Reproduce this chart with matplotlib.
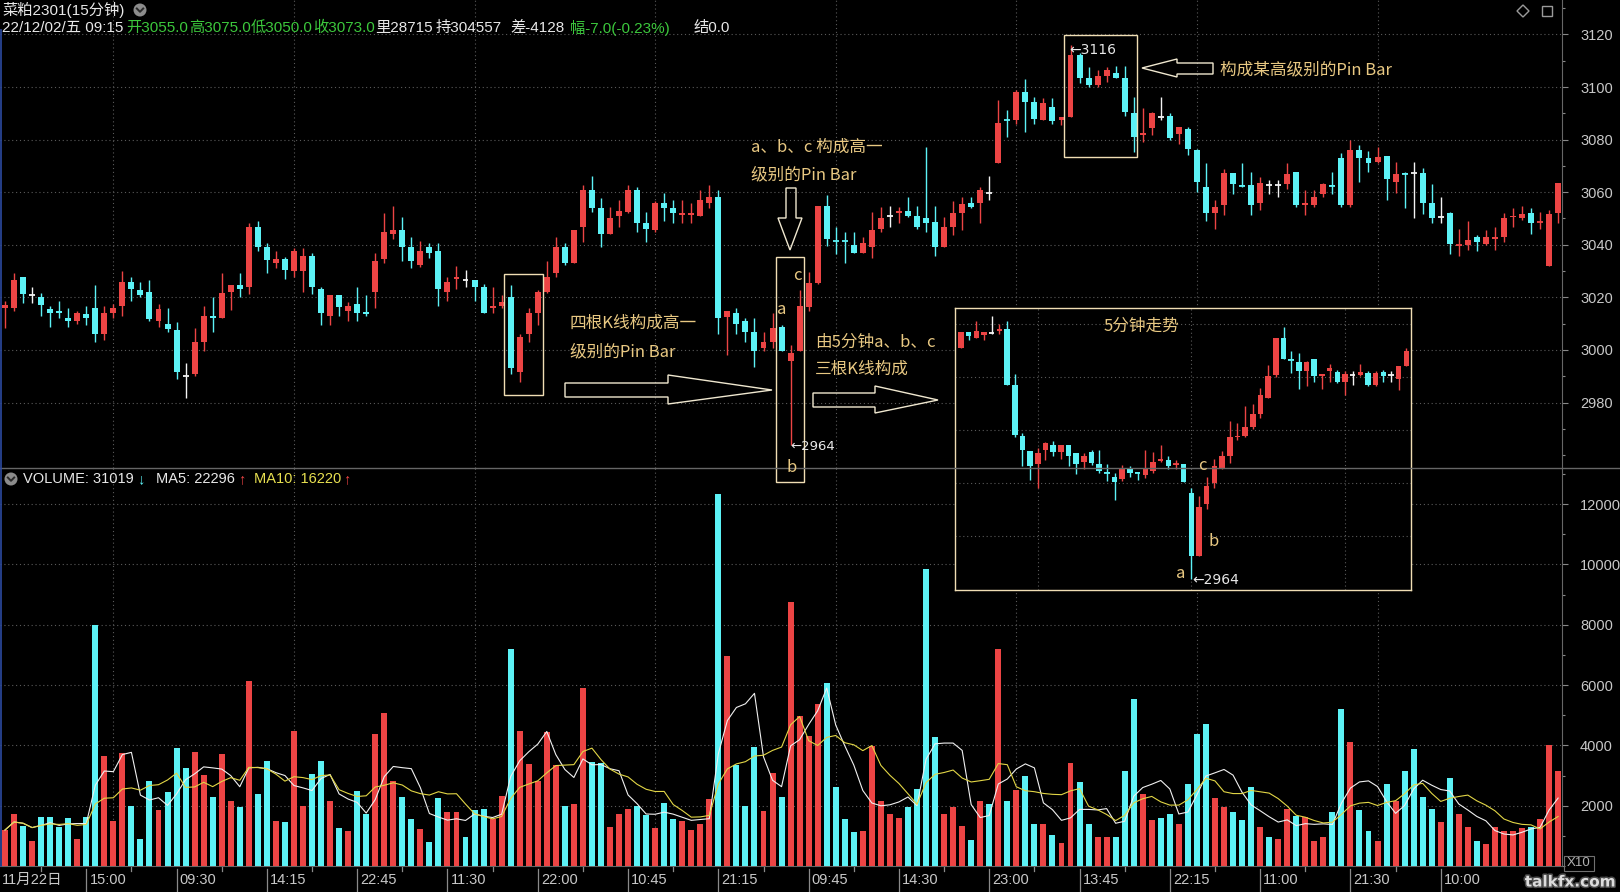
import numpy as np
import pandas as pd
import matplotlib
matplotlib.use('Agg')
import matplotlib.pyplot as plt
import matplotlib.transforms as mtransforms
import matplotlib.patheffects as pe
from matplotlib.patches import Rectangle, Polygon, Circle
from matplotlib.ticker import MultipleLocator

plt.rcParams['font.family'] = ['Noto Sans CJK SC', 'DejaVu Sans']

# ---- 15分钟K线 (菜粕2301) ----
o = [3016, 3015.8, 3027.6, 3021, 3020, 3015.7, 3014.8, 3012, 3011, 3013.8,
     3015.8, 3006, 3013.9, 3016.7, 3025.7, 3022.8, 3021.9, 3011.2, 3009.8, 3007.6,
     2990.2, 2990.8, 3003.2, 3013, 3012, 3022.2, 3024.7, 3024.1, 3046.6, 3039,
     3033, 3034.6, 3030.2, 3030.2, 3035.7, 3023, 3013, 3020.9, 3015, 3017.5,
     3014.6, 3022.2, 3034.7, 3044.1, 3045.6, 3039, 3032.3, 3039, 3037.8, 3022.2,
     3026.9, 3026.6, 3026.6, 3023.8, 3015.8, 3016.7, 3020, 2991.8, 3006.1, 3013.9,
     3022.2, 3029.2, 3039, 3033, 3046.6, 3060.8, 3053.9, 3044.1, 3051, 3052.6,
     3061, 3048.2, 3045.6, 3055.8, 3053.9, 3051.5, 3051.5, 3051, 3056, 3058.3,
     3012.4, 3013.9, 3011.2, 3006.7, 3000.6, 3002.9, 3008.9, 2995.9, 2999.7, 3016.5,
     3025.3, 3054.8, 3041.6, 3041.6, 3039.9, 3037, 3039.3, 3045.9, 3051, 3052,
     3053, 3051, 3050.1, 3048.8, 3039.3, 3046.6, 3052, 3056, 3055.8, 3059.8,
     3071, 3087.5, 3087.5, 3098.2, 3094.4, 3087.5, 3092.5, 3087.5, 3088.5, 3112,
     3103.3, 3100.8, 3104.2, 3105.2, 3103.3, 3090, 3081.7, 3084.3, 3088.7, 3089,
     3082.1, 3083.9, 3076, 3061.9, 3052.2, 3055.1, 3067.2, 3062.6, 3062.7, 3055.8,
     3062.7, 3062.7, 3063.1, 3067.8, 3055.1, 3055.1, 3059.3, 3062.7, 3072.9, 3055.1,
     3076, 3072.9, 3071.5, 3073.8, 3064, 3067.3, 3067.4, 3067.2, 3055.8, 3050.4,
     3052, 3039.6, 3039.9, 3042.8, 3040.3, 3042.3, 3042.8, 3050.4, 3050.1, 3052,
     3048.6, 3031.9, 3052.2]
h = [3018.5, 3029.2, 3027.6, 3023.8, 3021.8, 3016.7, 3018.8, 3015.8, 3014.8, 3016.7,
     3024.7, 3016.7, 3017.5, 3030.2, 3027.6, 3025.7, 3026.6, 3017.5, 3015.8, 3010.8,
     2994.9, 3008.5, 3016.7, 3020, 3029.2, 3024.7, 3029.2, 3048.1, 3049.2, 3040.8,
     3037.8, 3035.5, 3038.7, 3038.7, 3036.8, 3023.8, 3020.9, 3020.9, 3018.4, 3024.1,
     3020.9, 3036.8, 3052, 3054.8, 3050.7, 3042.8, 3041.6, 3040.8, 3040.8, 3027.6,
     3031.9, 3030.4, 3026.6, 3025, 3023.8, 3020.9, 3024.7, 3006.1, 3015.8, 3022.8,
     3034, 3042.8, 3040.8, 3045.6, 3062.7, 3066.2, 3057.7, 3054.5, 3057, 3062.7,
     3061.8, 3052.6, 3056.8, 3059.8, 3057, 3057, 3055.8, 3060.8, 3062.7, 3060.8,
     3014.8, 3015.8, 3012, 3012, 3007, 3013.9, 3009.5, 3001.9, 3022.8, 3029.8,
     3054.8, 3058.9, 3046.6, 3045, 3045, 3042.8, 3052.6, 3054.5, 3054.8, 3054.5,
     3058, 3054.8, 3077.1, 3054.8, 3050.7, 3056.8, 3058, 3058, 3062, 3066.2,
     3095, 3091.3, 3098.9, 3102.9, 3096.3, 3095.7, 3095.7, 3088.7, 3116, 3113,
     3107.7, 3106.5, 3107.5, 3108, 3108, 3096.3, 3091.9, 3090.6, 3096.3, 3090,
     3084.9, 3084.7, 3076.3, 3071, 3057, 3068.7, 3067.2, 3071, 3067.8, 3065.9,
     3064.6, 3064.6, 3071, 3067.8, 3060.8, 3060.8, 3063.6, 3067.8, 3074.8, 3079.8,
     3077.9, 3075.8, 3077.1, 3073.8, 3071.6, 3067.8, 3071.6, 3069.1, 3063.1, 3058,
     3052.6, 3045.9, 3049.2, 3043.7, 3045.6, 3046.6, 3052, 3053.9, 3054.8, 3053.9,
     3052.6, 3053.2, 3063.6]
l = [3008.5, 3015, 3017.7, 3017.7, 3013, 3008.9, 3012, 3008.9, 3009.9, 3009.5,
     3003, 3003.8, 3012, 3013, 3018.8, 3020, 3011.2, 3008.9, 3007, 2988.9,
     2981.6, 2990, 2999.7, 3007, 3012, 3015.2, 3020.3, 3021.3, 3037.8, 3029.2,
     3031, 3026.9, 3027.6, 3022.2, 3021.3, 3009.5, 3009.5, 3013, 3011.2, 3011.2,
     3013, 3015.8, 3033, 3042.1, 3034, 3031, 3031.7, 3034.9, 3016.7, 3018.8,
     3023, 3023.8, 3018.8, 3013.9, 3013.9, 3015.8, 2990.9, 2987.9, 3003.2, 3009.5,
     3021.5, 3027.6, 3032.3, 3033, 3041.2, 3052.6, 3039.3, 3044.1, 3046.9, 3052.2,
     3045, 3041.2, 3045, 3049.2, 3048.2, 3048.2, 3048.2, 3051, 3053.9, 3006.1,
     2998, 3006.1, 3003.2, 2993.4, 2999.7, 3000.6, 2999.7, 2964, 2999.7, 3015,
     3025, 3039.5, 3036.5, 3033, 3037, 3037, 3034.9, 3045, 3046.9, 3048.2,
     3050.4, 3045.9, 3045, 3035.7, 3039.3, 3043.7, 3045.6, 3053.9, 3048.2, 3057,
     3071, 3080.9, 3086, 3083, 3086, 3087.5, 3086, 3085.5, 3088.5, 3101.5,
     3099.9, 3099.9, 3102, 3103.3, 3089, 3075.4, 3079.2, 3081.7, 3087.5, 3079.8,
     3078.3, 3074.1, 3060.2, 3049.2, 3045.9, 3051.3, 3059.3, 3062.1, 3051.3, 3053.2,
     3059.3, 3058.3, 3061.1, 3054.2, 3051.3, 3054.5, 3058.3, 3059.3, 3054.5, 3054.5,
     3064, 3067.8, 3071, 3057, 3059.8, 3053.9, 3050.1, 3051.7, 3048.2, 3048.2,
     3036.5, 3035.7, 3038, 3037.8, 3039.9, 3038, 3041.2, 3046.9, 3049.4, 3044.1,
     3045.9, 3031.9, 3048.2]
c = [3017, 3026.6, 3021.3, 3021, 3017, 3013.9, 3013.9, 3011, 3013.9, 3012.2,
     3006, 3013.9, 3015.8, 3025.7, 3023, 3020.9, 3011.9, 3015.7, 3008, 2991.8,
     2990.2, 3002.9, 3013, 3012.3, 3021.8, 3024.7, 3023, 3046.6, 3039, 3034.2,
     3034.6, 3030.4, 3037.8, 3035.7, 3024.1, 3013.9, 3020.9, 3016.2, 3016.7, 3013.9,
     3013.7, 3034, 3044.9, 3045.6, 3039.3, 3034, 3037.8, 3036.8, 3023, 3025.7,
     3027.6, 3026.6, 3024.1, 3013.9, 3016.7, 3018.4, 2993, 3004.8, 3013.9, 3022.2,
     3027.6, 3039, 3033, 3045.6, 3060.8, 3053.9, 3044.1, 3050.1, 3053, 3061,
     3048.2, 3045.9, 3055.8, 3054.1, 3052.2, 3052.2, 3052.2, 3057, 3058.3, 3012,
     3014.8, 3009.9, 3007, 2999.7, 3002.9, 3008.5, 2999.7, 2999, 3016.7, 3025.6,
     3054.8, 3042.1, 3041.4, 3041.4, 3037, 3040.8, 3045.6, 3050.1, 3051, 3053,
     3051, 3046.6, 3048.4, 3039.3, 3046.6, 3052, 3055.5, 3054.5, 3061, 3059.8,
     3086.2, 3087.3, 3098.2, 3094.4, 3088, 3094, 3087.2, 3088.7, 3112.2, 3103.3,
     3100.8, 3104.2, 3106.5, 3103.3, 3090.6, 3080.9, 3082.6, 3090, 3088.7, 3080.5,
     3084.9, 3076.3, 3064, 3052, 3054.5, 3067.2, 3063.1, 3062.4, 3055.1, 3063.6,
     3062.7, 3062.7, 3066.9, 3055.1, 3055.8, 3058, 3063.1, 3062.3, 3055.1, 3076,
     3072.9, 3071, 3073.3, 3064.9, 3066.9, 3067.1, 3067.4, 3055.8, 3050.1, 3050.4,
     3040.3, 3040, 3041.8, 3041, 3042.8, 3042.8, 3050.1, 3051, 3051.7, 3048.4,
     3048.8, 3051.7, 3063.6]

vol = [1193, 1724, 1337, 840, 1635, 1635, 1282, 1591, 895, 1635,
       7989, 3635, 1480, 3735, 2000, 895, 2829, 1856, 2464, 3912,
       3249, 3790, 3017, 2298, 3713, 2166, 1945, 6144, 2387, 3492,
       1503, 1470, 4486, 2000, 3050, 3492, 2144, 1260, 1149, 2497,
       1724, 4376, 5072, 2829, 2298, 1558, 1227, 785, 2254, 1779,
       1779, 950, 1856, 1890, 1558, 2332, 7194, 4464, 3381, 2829,
       4431, 3359, 2000, 2055, 5901, 3459, 3403, 1304, 1724, 1890,
       2000, 1702, 1260, 2077, 1558, 1481, 1193, 1392, 2221, 12332,
       6973, 3359, 2000, 3956, 1812, 3083, 2298, 8763, 4984, 4321,
       5370, 6055, 2630, 1558, 1116, 1149, 3989, 2166, 1724, 1591,
       1967, 2553, 9846, 4287, 1724, 1967, 1337, 862, 2144, 2055,
       7194, 2166, 2519, 2995, 1392, 1392, 1039, 751, 3403, 2796,
       1392, 950, 972, 972, 3138, 5536, 2387, 1525, 1591, 1724,
       1392, 2718, 4376, 4707, 2254, 1945, 1779, 1525, 2630, 1282,
       950, 895, 1890, 1669, 1613, 840, 972, 1779, 5205, 4122,
       1856, 1149, 840, 2718, 2166, 3160, 3878, 2298, 1890, 1448,
       2917, 1724, 1304, 818, 729, 1304, 1149, 1149, 1260, 1282,
       1558, 4022, 3138]
# 十字星对应的成交量柱颜色
doji_vol_side = {3: 'up', 20: 'down', 51: 'down', 98: 'up', 109: 'down',
                 128: 'down', 140: 'down', 141: 'up', 156: 'down', 159: 'up'}

tick_idx = [9, 19, 29, 39, 49, 59, 69, 79, 89, 99, 109, 119, 129, 139, 149, 159]
tick_lab = ['15:00', '09:30', '14:15', '22:45', '11:30', '22:00', '10:45', '21:15',
            '09:45', '14:30', '23:00', '13:45', '22:15', '11:00', '21:30', '10:00']

# ---- 5分钟走势 (inset) ----
o5 = [3007.6, 3010.5, 3009.5, 3010, 3010.4, 3010.8, 3011.2, 3000.6, 2991, 2988.2,
      2985.6, 2988.3, 2989.2, 2987.9, 2989.2, 2987.7, 2986.1, 2987.9, 2985.6, 2984.2,
      2983.3, 2982.9, 2984.8, 2984.1, 2983.6, 2984.3, 2986.3, 2986.5, 2985.4, 2985.6,
      2980.2, 2968.4, 2978.1, 2982, 2984.9, 2987.1, 2990.7, 2991, 2992.7, 2995.1,
      2998.2, 3002.5, 3009.5, 3005.4, 3005, 3003.2, 3005.5, 3002.2, 3003.2, 3003.1,
      3001.1, 3002.4, 3002.4, 3002.8, 3000.6, 3003.1, 3002.5, 3001.7, 3004.1]
h5 = [3010.5, 3010.5, 3012.6, 3010.5, 3013.5, 3012, 3012.7, 3002.6, 2991.5, 2988.2,
      2988.7, 2989.9, 2990, 2989.2, 2989.2, 2987.7, 2987.7, 2988.3, 2988.3, 2985.6,
      2983.9, 2985.5, 2985.2, 2984.1, 2988.3, 2987.9, 2989.3, 2987.1, 2986.5, 2985.6,
      2981.2, 2979.7, 2983.3, 2986.6, 2988.2, 2993.7, 2993.4, 2996.7, 2996.9, 3000.1,
      3004.4, 3009.5, 3011.6, 3006.9, 3006.6, 3005.1, 3005.5, 3002.6, 3004.5, 3003.4,
      3003.2, 3003.2, 3004.5, 3003.2, 3003.2, 3003.4, 3003.2, 3004.1, 3007.5]
l5 = [3007.6, 3009.1, 3009.5, 3009.1, 3010.2, 3010.2, 3000.6, 2990.7, 2985.2, 2982.7,
      2981.2, 2986.5, 2987.1, 2986.6, 2985.2, 2983.7, 2984.8, 2985.4, 2983.9, 2982.4,
      2978.9, 2982.4, 2983.3, 2982.7, 2983.1, 2983.9, 2986.1, 2984.8, 2984.8, 2982.2,
      2964, 2968.4, 2977.2, 2981.2, 2984.8, 2985.8, 2990.2, 2990.7, 2992.3, 2994.4,
      2998.2, 3002, 3005.4, 3002.8, 2999.8, 3000.3, 3001.1, 2999.8, 3001.1, 3000.9,
      2998.7, 3000.6, 3002.2, 3000.4, 3000.4, 3001.1, 3001.1, 2999.7, 3004.1]
c5 = [3010.5, 3009.9, 3010.7, 3010.5, 3010.4, 3011.2, 3000.6, 2991.2, 2988.3, 2985.3,
      2987.7, 2989.6, 2987.9, 2989.2, 2987.1, 2985.6, 2987.1, 2985.8, 2984.4, 2984.0,
      2982.2, 2984.8, 2983.9, 2983.9, 2984.8, 2986.1, 2986.7, 2985.2, 2985.6, 2982.2,
      2968.4, 2977.6, 2981.6, 2985.2, 2987.1, 2990.7, 2991, 2992.7, 2995.1, 2998.7,
      3002.2, 3009.5, 3005.4, 3005.2, 3003.2, 3005, 3002.2, 3002.6, 3003.7, 3001.1,
      3002.6, 3002.4, 3003.1, 3000.6, 3002.8, 3002.2, 3002.5, 3004.1, 3007]

RED = '#EC4444'
CYAN = '#5CF2F6'
WHITE = '#F4F4F4'
GRID = '#5a5a5a'
AXC = '#666666'
LAB = '#c8c8c8'
ANN = '#E8C882'
BOXC = '#F0DEB4'

W, H = 1620, 892


def fax(x0, y0, x1, y1):
    return [x0 / W, 1 - y1 / H, (x1 - x0) / W, (y1 - y0) / H]


def candle_colors(op, cl):
    op, cl = np.asarray(op), np.asarray(cl)
    return np.where(cl > op, RED, np.where(cl < op, CYAN, WHITE))


def candles(a, op, hi, lo, cl, w, lw, flat_tol):
    op, hi, lo, cl = map(np.asarray, (op, hi, lo, cl))
    x = np.arange(len(op))
    col = candle_colors(op, cl)
    a.vlines(x, lo, hi, colors=col, lw=lw, zorder=3)
    a.bar(x, np.abs(cl - op), w, np.minimum(op, cl), color=col, lw=0, zorder=4)
    flat = np.abs(cl - op) < flat_tol
    a.hlines(cl[flat], x[flat] - w / 2, x[flat] + w / 2, colors=list(col[flat]), lw=lw * 1.3, zorder=4)


def dark_axes(a):
    a.set_facecolor('black')
    for s in a.spines.values():
        s.set_visible(False)


fig = plt.figure(figsize=(16.2, 8.92), dpi=100, facecolor='black')
ax = fig.add_axes(fax(0, 0, 1562, 468))
axv = fig.add_axes(fax(0, 468, 1562, 866))
axi = fig.add_axes(fax(955, 308, 1411, 590), zorder=5)
ov = fig.add_axes([0, 0, 1, 1], zorder=10)
ov.set_xlim(0, W)
ov.set_ylim(H, 0)
ov.axis('off')
ov.patch.set_alpha(0)

n = len(o)
xlim = (-0.554, 172.43)
grid_x = list(range(12, 160, 20))

# ---- price panel ----
dark_axes(ax)
candles(ax, o, h, l, c, 0.66, 1.0, 0.5)
ax.set_xlim(*xlim)
ax.set_ylim(2955.1, 3133.1)
ax.set_xticks(grid_x)
ax.set_xticklabels([])
ax.yaxis.tick_right()
ax.set_yticks(range(2980, 3121, 20))
ax.yaxis.set_minor_locator(MultipleLocator(10))
ax.tick_params(axis='x', length=0)
ax.tick_params(axis='y', which='major', direction='out', length=4, width=0.8, color='#888888',
               labelcolor=LAB, labelsize=10.5, pad=9)
ax.tick_params(axis='y', which='minor', direction='out', length=2.5, width=0.8, color='#888888')
plt.setp(ax.get_yticklabels(), family='Liberation Sans')
ax.spines['right'].set_visible(True)
ax.spines['right'].set_color(AXC)
ax.set_axisbelow(True)
ax.grid(True, which='major', color=GRID, linestyle=(0, (1, 2.5)), lw=0.8)

# ---- volume panel ----
dark_axes(axv)
col = candle_colors(o, c)
for i, side in doji_vol_side.items():
    col[i] = RED if side == 'up' else CYAN
xs = np.arange(n)
axv.bar(xs, vol, 0.66, color=list(col), lw=0, zorder=3)
vs = pd.Series(vol, dtype=float)
axv.plot(xs, vs.rolling(5, min_periods=1).mean(), color='#F0F0F0', lw=0.8, zorder=4)
axv.plot(xs, vs.rolling(10, min_periods=1).mean(), color='#E2D646', lw=0.8, zorder=4)
axv.set_xlim(*xlim)
axv.set_ylim(0, 13194)
axv.set_xticks(grid_x)
axv.set_xticklabels([])
axv.yaxis.tick_right()
axv.set_yticks(range(2000, 12001, 2000))
axv.yaxis.set_minor_locator(MultipleLocator(1000))
axv.tick_params(axis='x', length=0)
axv.tick_params(axis='y', which='major', direction='out', length=4, width=0.8, color='#888888',
                labelcolor=LAB, labelsize=10.5, pad=9)
axv.tick_params(axis='y', which='minor', direction='out', length=2.5, width=0.8, color='#888888')
plt.setp(axv.get_yticklabels(), family='Liberation Sans')
axv.spines['right'].set_visible(True)
axv.spines['right'].set_color(AXC)
axv.spines['bottom'].set_visible(True)
axv.spines['bottom'].set_color(AXC)
axv.set_axisbelow(True)
axv.grid(True, which='major', color=GRID, linestyle=(0, (1, 2.5)), lw=0.8)

# time labels under volume panel
trans = mtransforms.blended_transform_factory(axv.transData, ov.transData)
for i, lab in zip(tick_idx, tick_lab):
    axv.plot([i, i], [869, 891], transform=trans, clip_on=False, color='#8a8a8a', lw=0.9)
    axv.plot([i - 5, i - 5], [867, 871], transform=trans, clip_on=False, color='#8a8a8a', lw=0.9)
    axv.text(i + 0.35, 880, lab, transform=trans, color=LAB, fontsize=10.5,
             family=['Liberation Sans', 'Noto Sans CJK SC'], va='center', ha='left')
ov.text(2, 880, '11月22日', color=LAB, fontsize=10.5, family=['Liberation Sans', 'Noto Sans CJK SC'],
        va='center', ha='left')

# ---- inset: 5分钟走势 ----
axi.set_facecolor('black')
candles(axi, o5, h5, l5, c5, 0.72, 1.0, 0.3)
axi.set_xlim(-0.78, 58.6)
axi.set_ylim(2961.9, 3015.1)
axi.set_xticks([10, 30, 50])
axi.set_yticks([2972.1, 2982.1, 2992.1, 3002.1, 3012.1])
axi.set_xticklabels([])
axi.set_yticklabels([])
axi.tick_params(length=0)
axi.set_axisbelow(True)
axi.grid(True, color=GRID, linestyle=(0, (1, 2.5)), lw=0.8)
for s in axi.spines.values():
    s.set_color(BOXC)
    s.set_linewidth(1)

# ---- boxes around candles (price coords, drawn on the overlay so nothing covers them) ----
for (x0, y0, x1, y1) in [(55.3, 2982.9, 59.6, 3028.9), (85.4, 2949.6, 88.5, 3035.5),
                         (117.3, 3073.3, 125.4, 3119.8)]:
    ov.add_patch(Rectangle((x0, y0), x1 - x0, y1 - y0, fill=False, ec=BOXC, lw=1,
                           transform=ax.transData, clip_on=False))

# ---- frame lines ----
ov.plot([0, W], [468, 468], color=AXC, lw=1)
ov.plot([0.8, 0.8], [30, 866], color='#2c4aa0', lw=1.2)

# ---- hollow arrows ----
arrows = [
    [(565, 383), (668, 383), (668, 375), (772, 390), (668, 404), (668, 397), (565, 397)],
    [(813, 393), (875, 393), (875, 386), (938, 400), (875, 413), (875, 407), (813, 407)],
    [(786, 188), (796, 188), (796, 218), (802, 218), (790, 250), (778, 218), (786, 218)],
    [(1142, 68), (1177, 59), (1177, 63), (1213, 63), (1213, 74), (1177, 74), (1177, 77)],
]
for pts in arrows:
    ov.add_patch(Polygon(pts, closed=True, fill=False, ec='#F0E8D0', lw=1))

# ---- annotation text ----
for x, y, s in [(751, 147, 'a、b、c 构成高一'), (751, 175, '级别的Pin Bar'),
                (570, 323, '四根K线构成高一'), (570, 352, '级别的Pin Bar'),
                (815, 342, '由5分钟a、b、c'), (815, 369, '三根K线构成'),
                (1220, 70, '构成某高级别的Pin Bar'), (1104, 326, '5分钟走势')]:
    ov.text(x, y, s, color=ANN, fontsize=12, va='center', ha='left')
for x, y, s in [(797, 276, 'c'), (782, 309, 'a'), (792, 467, 'b'),
                (1202, 465, 'c'), (1214, 541, 'b'), (1181, 573, 'a')]:
    ov.text(x, y, s, color=ANN, fontsize=12, va='center', ha='center')
for x, y, s, fs in [(790, 447, '←2964', 9.5), (1069, 50, '←3116', 10), (1192, 580, '←2964', 10)]:
    ov.text(x, y, s, color='#E8E8E8', fontsize=fs, family='DejaVu Sans', va='center', ha='left')

# ---- header ----
hdr_font = ['Liberation Sans', 'Noto Sans CJK SC']
GREEN = '#3CC83C'
TXT = '#E8E8E8'
ov.text(2, 10, '菜粕2301(15分钟)', color=TXT, fontsize=11, family=hdr_font, va='center')
for x, s, cc in [(2, '22/12/02/五 09:15', TXT), (126, '开3055.0', GREEN), (189, '高3075.0', GREEN),
                 (251, '低3050.0', GREEN), (313, '收3073.0', GREEN), (375, '里28715', TXT),
                 (436, '持304557', TXT), (510, '差-4128', TXT), (570, '幅-7.0(-0.23%)', GREEN),
                 (694, '结0.0', TXT)]:
    ov.text(x, 28, s, color=cc, fontsize=11, family=hdr_font, va='center')

for x, s, cc in [(23, 'VOLUME: 31019', TXT), (137, '↓', CYAN), (156, 'MA5: 22296', TXT),
                 (238, '↑', RED), (254, 'MA10: 16220', '#E8E050'), (343, '↑', RED)]:
    ov.text(x, 479, s, color=cc, fontsize=10.5, family=['Liberation Sans', 'DejaVu Sans'], va='center')

for cx, cy in [(140, 10), (11, 479)]:
    ov.add_patch(Circle((cx, cy), 6.5, fc='#8c8c8c', ec='none'))
    ov.plot([cx - 3.2, cx, cx + 3.2], [cy - 1.5, cy + 1.8, cy - 1.5], color='#2a2a2a', lw=1.4)

# top-right icons
ov.add_patch(Polygon([(1523, 5), (1529, 11), (1523, 17), (1517, 11)], closed=True, fill=False,
                     ec='#9a9a9a', lw=1))
ov.add_patch(Rectangle((1542, 6), 10, 10, fill=False, ec='#9a9a9a', lw=1))

# X10 box and watermark
ov.add_patch(Rectangle((1564, 856), 30, 15, fill=False, ec='#707070', lw=0.8))
ov.text(1579, 863.5, 'X10', color='#b0b0b0', fontsize=9.5, family='Liberation Sans',
        ha='center', va='center')
ov.text(1570, 882, 'talkfx.com', color='#dcdcdc', fontsize=11, fontweight='bold',
        family='DejaVu Sans', ha='center', va='center',
        path_effects=[pe.withStroke(linewidth=2.2, foreground='#4a4a4a')])

fig.savefig('out.png', dpi=100, facecolor='black')
